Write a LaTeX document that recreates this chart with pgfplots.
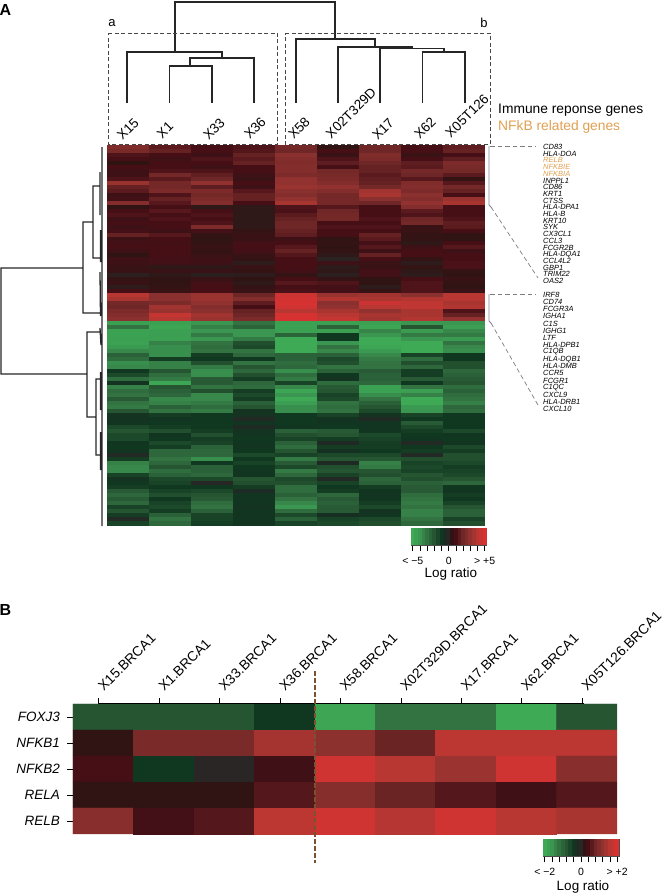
\documentclass[border=0pt]{standalone}
\usepackage{fontspec}
\setmainfont{Liberation Sans}
\usepackage{pgfplots}
\usepackage{pgfplotstable}
\pgfplotsset{compat=1.18}
\pgfdeclareplotmark{cellA}{\pgfpathrectangle{\pgfpoint{-21.1pt}{-2.15pt}}{\pgfpoint{42.2pt}{4.3pt}}\pgfusepathqfill}
\pgfdeclareplotmark{cellK}{\pgfpathrectangle{\pgfpoint{-1.9pt}{-8.5pt}}{\pgfpoint{3.8pt}{17pt}}\pgfusepathqfill}
\pgfplotsset{
  colormap={logratio}{
    rgb255(0cm)=(62,170,85);
    rgb255(2cm)=(58,150,80);
    rgb255(4cm)=(50,115,65);
    rgb255(6cm)=(38,85,50);
    rgb255(8cm)=(16,55,32);
    rgb255(9cm)=(25,45,35);
    rgb255(10cm)=(42,38,38);
    rgb255(11cm)=(48,20,20);
    rgb255(12cm)=(70,15,22);
    rgb255(14cm)=(110,38,38);
    rgb255(16cm)=(145,50,48);
    rgb255(18cm)=(185,55,50);
    rgb255(20cm)=(215,50,50)},
  colormap name=logratio
}
\definecolor{nfkb}{RGB}{224,160,80}
\definecolor{bracketgray}{RGB}{130,135,150}
\definecolor{dashgray}{RGB}{125,125,125}
\definecolor{divider}{RGB}{122,82,48}
\pgfplotstableread{
r c1 c2 c3 c4 c5 c6 c7 c8 c9
0 2.5 1.5 1.0 1.2 2.2 0.5 2.0 1.0 1.6
1 2.3 1.8 1.0 1.3 2.0 1.0 2.0 1.0 1.8
2 1.2 1.0 0.8 1.8 2.8 0.7 2.5 0.7 1.0
3 1.0 0.8 1.2 1.5 2.6 1.2 2.4 1.0 1.6
4 0.5 1.0 1.0 1.8 2.5 1.6 2.0 1.6 2.4
5 1.0 1.0 0.8 1.0 2.6 1.0 1.8 1.5 2.3
6 0.8 1.2 1.2 1.0 2.6 2.2 1.8 2.2 2.2
7 0.8 2.2 1.7 0.8 2.4 2.3 1.5 2.0 1.5
8 1.2 1.5 2.0 0.7 3.0 2.4 1.7 1.4 0.6
9 3.2 2.2 3.0 1.0 3.0 2.6 1.8 2.5 1.4
10 1.8 2.2 1.6 0.8 3.2 3.0 2.2 2.6 2.2
11 1.5 2.4 2.4 1.4 2.8 2.6 3.4 2.4 1.8
12 0.8 1.2 2.2 1.8 2.6 2.2 3.6 2.8 1.0
13 0.9 1.8 2.4 1.8 3.0 2.2 2.8 2.6 3.2
14 2.6 1.4 2.6 1.0 3.6 2.2 2.0 3.0 3.6
15 0.5 1.0 0.4 0.4 1.2 1.4 1.0 2.6 1.0
16 1.0 1.4 1.0 0.4 1.1 2.0 1.0 1.5 1.0
17 1.2 1.0 1.2 0.4 1.5 2.2 1.0 1.2 1.0
18 0.8 1.2 1.0 0.4 1.8 2.2 1.2 2.0 1.2
19 1.0 1.0 1.2 0.4 2.0 1.0 1.0 2.2 1.6
20 0.8 1.0 2.4 0.4 2.0 1.2 1.2 0.7 1.5
21 0.9 0.8 0.9 0.6 1.8 1.0 1.0 0.7 1.0
22 1.8 1.4 0.6 0.7 1.6 1.0 1.8 0.6 0.5
23 0.8 1.0 0.5 0.7 0.8 0.5 1.5 0.6 0.5
24 0.9 0.9 0.6 0.9 1.0 0.6 0.9 0.4 1.0
25 1.0 1.0 0.7 1.0 1.4 0.5 1.4 0.8 1.4
26 0.8 1.0 0.6 0.9 1.8 0.6 0.8 1.0 0.8
27 0.5 1.0 0.7 0.7 1.3 0.4 1.8 1.0 1.0
28 0.8 0.9 0.8 0.6 1.0 0.1 1.0 0.6 1.0
29 0.8 0.9 0.8 0.3 1.0 0.8 0.7 0.3 1.1
30 0.7 0.4 0.4 0.7 1.0 0.3 0.7 0.6 1.1
31 0.7 0.7 0.7 0.6 0.9 0.4 0.9 0.4 0.6
32 0.2 0.4 0.2 0.3 0.6 0.2 0.9 0.3 0.5
33 0.6 0.5 0.7 0.5 1.0 0.6 0.5 1.0 0.7
34 0.7 0.5 0.9 0.4 1.4 1.2 0.5 1.2 0.6
35 0.3 0.6 1.0 0.6 1.0 0.9 0.3 1.2 0.5
36 1.0 0.7 1.0 0.7 1.1 0.9 0.6 1.2 0.7
37 4.0 2.8 3.2 2.0 4.6 3.2 3.4 2.8 4.0
38 3.6 2.8 3.2 2.6 4.8 3.8 3.6 3.8 4.0
39 2.2 2.4 3.0 1.6 5.0 2.8 4.6 4.2 3.6
40 2.0 3.4 2.6 1.0 4.8 3.0 4.0 4.2 3.8
41 2.4 3.2 2.8 1.8 4.0 3.6 3.0 3.6 1.2
42 2.6 4.4 3.4 2.0 5.0 4.0 3.6 3.6 1.8
43 2.8 4.0 3.2 2.4 5.0 4.4 3.4 3.8 3.0
44 -4.5 -4.5 -4.0 -3.0 -4.5 -4.5 -4.5 -4.0 -4.0
45 -3.0 -4.8 -3.4 -2.5 -4.6 -2.5 -4.8 -2.0 -4.4
46 -4.6 -4.5 -4.0 -4.0 -4.5 -4.5 -3.5 -4.3 -3.6
47 -4.6 -4.4 -3.2 -4.0 -2.5 -1.0 -4.0 -3.2 -3.2
48 -4.5 -4.5 -4.0 -3.2 -5.0 -1.0 -5.0 -4.0 -4.2
49 -4.6 -3.4 -3.0 -1.8 -5.0 -4.0 -5.0 -5.0 -3.0
50 -4.2 -3.8 -2.8 -1.6 -5.0 -3.0 -4.8 -5.0 -3.6
51 -3.6 -3.8 -3.0 -3.0 -5.0 -3.6 -4.2 -5.0 -3.8
52 -2.4 -3.8 -1.2 -2.6 -2.4 -2.4 -3.6 -1.4 -1.0
53 -2.8 -1.2 -1.0 -1.0 -2.4 -1.6 -3.2 -2.8 -1.0
54 -3.8 -3.4 -1.8 -3.0 -2.8 -1.8 -3.0 -1.8 -1.8
55 -3.6 -3.4 -3.2 -2.0 -2.6 -3.0 -3.0 -2.6 -1.8
56 -1.0 -2.0 -3.8 -2.6 -3.8 -2.4 -2.2 -1.2 -2.6
57 -1.6 -2.8 -3.8 -1.8 -2.8 -1.0 -2.4 -1.2 -2.4
58 -2.8 -3.2 -2.2 -1.2 -3.2 -0.8 -2.4 -2.2 -2.2
59 -0.8 -4.8 -2.2 -2.6 -1.4 -2.8 -2.6 -1.0 -2.0
60 -3.4 -2.0 -3.0 -2.8 -3.6 -2.2 -4.6 -3.0 -2.8
61 -2.8 -2.4 -1.8 -1.2 -4.8 -2.0 -4.6 -4.4 -2.4
62 -3.0 -2.6 -3.6 -1.6 -4.0 -1.4 -3.8 -3.4 -2.8
63 -2.2 -3.6 -3.6 -1.2 -5.0 -1.6 -3.0 -5.0 -3.0
64 -3.0 -3.4 -3.2 -2.4 -4.4 -3.0 -2.4 -5.0 -3.4
65 -3.2 -2.4 -2.8 -2.0 -3.8 -2.8 -2.0 -4.2 -2.6
66 -2.0 -3.0 -3.2 -0.8 -3.8 -3.0 -1.6 -4.0 -2.8
67 -0.8 -1.2 -1.0 -0.8 -1.0 -1.4 -0.8 -1.4 -1.0
68 -0.8 -0.9 -1.0 -0.2 -1.0 -0.8 -0.3 -1.0 -1.0
69 -0.9 -1.0 -1.0 -0.9 -1.0 -0.9 -0.9 -2.2 -1.0
70 -1.6 -1.2 -1.0 -0.3 -0.9 -1.0 -0.9 -1.6 -1.0
71 -2.0 -1.8 -1.2 -0.8 -2.4 -2.2 -0.9 -1.2 -1.6
72 -1.6 -0.9 -1.8 -0.9 -1.8 -2.0 -1.6 -1.0 -0.9
73 -1.6 -1.0 -1.2 -1.0 -1.4 -1.2 -1.4 -0.9 -1.0
74 -0.9 -1.6 -1.4 -0.9 -2.4 -0.3 -1.2 -0.2 -0.9
75 -1.0 -1.2 -2.4 -0.9 -2.8 -1.2 -1.2 -1.0 -1.6
76 -0.9 -2.6 -2.6 -1.0 -2.0 -0.7 -1.0 -1.2 -1.2
77 -0.2 -2.6 -2.6 -1.6 -1.4 -1.6 -1.6 -0.2 -1.8
78 -1.2 -3.0 -3.8 -1.0 -3.2 -2.0 -2.0 -1.8 -1.8
79 -3.4 -2.6 -1.0 -1.4 -2.2 -0.3 -3.4 -1.4 -1.6
80 -3.6 -2.0 -2.4 -1.0 -1.6 -1.8 -3.2 -1.6 -1.2
81 -3.6 -2.8 -2.4 -0.9 -3.2 -2.0 -2.0 -1.4 -1.4
82 -1.4 -2.4 -2.6 -0.9 -2.6 -1.4 -1.8 -2.0 -1.6
83 -0.8 -1.6 -1.6 -2.0 -1.6 -0.2 -2.6 -1.8 -2.0
84 -1.0 -1.4 -0.1 -1.8 -1.8 -1.4 -2.4 -2.4 -2.6
85 -1.2 -1.0 -1.0 -1.2 -2.8 -1.0 -1.2 -2.2 -1.0
86 -2.2 -1.4 -1.6 -0.4 -2.8 -1.2 -0.9 -2.2 -0.9
87 -2.6 -1.8 -2.0 -0.9 -2.4 -2.6 -0.9 -2.8 -1.2
88 -2.2 -1.0 -2.2 -0.9 -3.0 -2.2 -0.9 -3.0 -1.0
89 -2.6 -1.4 -2.8 -0.9 -3.6 -2.4 -1.2 -3.2 -1.4
90 -1.4 -1.6 -3.0 -0.8 -4.0 -2.2 -1.6 -3.0 -2.0
91 -2.0 -1.2 -2.4 -0.9 -2.8 -2.2 -0.8 -3.4 -2.4
92 -1.2 -2.4 -1.4 -0.9 -1.6 -0.6 -0.9 -3.4 -2.4
93 -0.2 -3.0 -1.4 -0.9 -2.4 -1.4 -1.6 -3.0 -1.4
94 -1.4 -2.6 -1.2 -0.9 -1.4 -1.6 -1.8 -2.6 -1.8
}\heatA
\begin{document}
\begin{tikzpicture}[x=1pt,y=1pt]
\useasboundingbox (0,0) rectangle (664,894);
% ---- panel A heat map
\begin{axis}[at={(107pt,748.5pt)},anchor=north west,scale only axis,width=378pt,height=380pt,
  xmin=0.5,xmax=9.5,ymin=-0.5,ymax=94.5,y dir=reverse,hide axis,clip=false,
  point meta min=-5,point meta max=5]
\pgfplotsinvokeforeach{1,...,9}{
  \addplot[scatter,only marks,mark=cellA,scatter src=explicit] table[x expr=#1,y=r,meta=c#1] {\heatA};
}
\end{axis}
% ---- panel A colour key
\begin{axis}[at={(411pt,349pt)},anchor=south west,scale only axis,width=75.5pt,height=16pt,
  xmin=-5.25,xmax=5.25,ymin=-1,ymax=1,ytick=\empty,axis on top,
  axis line style={draw=black!70,line width=.5pt},
  xtick={-5,-4,-3,-2,-1,0,1,2,3,4,5},xticklabels={< −5,,,,,0,,,,,> +5},xtick pos=bottom,
  tick align=outside,major tick length=6pt,tick style={black,line width=.7pt},
  xticklabel style={font=\fontsize{10.5}{11}\selectfont,yshift=-3pt},
  point meta min=-5,point meta max=5,clip=true]
\addplot[scatter,only marks,mark=cellK,scatter src=explicit] table[x=x,y=y,meta=x] {
x y
-5 0
-4.5 0
-4 0
-3.5 0
-3 0
-2.5 0
-2 0
-1.5 0
-1 0
-0.5 0
0 0
0.5 0
1 0
1.5 0
2 0
2.5 0
3 0
3.5 0
4 0
4.5 0
5 0
};
\end{axis}
% ---- panel B heat map
\begin{axis}[at={(73pt,60pt)},anchor=south west,scale only axis,width=544pt,height=130pt,
  xmin=0.5,xmax=9.5,ymin=0.5,ymax=5.5,
  axis line style={draw=none},
  xtick={0.925,1.925,2.925,3.925,4.925,5.925,6.925,7.925,8.925},
  xticklabels={X15.BRCA1,X1.BRCA1,X33.BRCA1,X36.BRCA1,X58.BRCA1,X02T329D.BRCA1,X17.BRCA1,X62.BRCA1,X05T126.BRCA1},
  xtick pos=top,xticklabel pos=top,
  xticklabel style={rotate=45,anchor=west,font=\fontsize{13.8}{14}\selectfont,xshift=4.8pt,yshift=5.8pt},
  ytick={1,2,3,4,5},yticklabels={\textit{RELB},\textit{RELA},\textit{NFKB2},\textit{NFKB1},\textit{FOXJ3}},
  ytick pos=left,yticklabel style={font=\fontsize{13.5}{14}\selectfont,xshift=-4pt},
  tick align=outside,major tick length=5.5pt,tick style={black,line width=.6pt},
  axis on top=false,point meta min=-2,point meta max=2,clip=false]
\addplot[matrix plot*,mesh/cols=9,mesh/rows=5,point meta=explicit] table[x=x,y=y,meta=v] {
x y v
1 5 -0.8
2 5 -0.8
3 5 -0.8
4 5 -0.4
5 5 -1.9
6 5 -1.2
7 5 -1.2
8 5 -2.0
9 5 -0.8
1 4 0.2
2 4 0.94
3 4 0.94
4 4 1.4
5 4 1.16
6 4 0.76
7 4 1.64
8 4 1.64
9 4 1.64
1 3 0.4
2 3 -0.4
3 3 0.0
4 3 0.34
5 3 1.9
6 3 1.6
7 3 1.3
8 3 1.9
9 3 1.1
1 2 0.2
2 2 0.2
3 2 0.2
4 2 0.54
5 2 1.06
6 2 0.76
7 2 0.54
8 2 0.34
9 2 0.54
1 1 1.1
2 1 0.36
3 1 0.54
4 1 1.64
5 1 1.9
6 1 1.56
7 1 1.9
8 1 1.6
9 1 1.44
};
\end{axis}
% ---- panel B colour key
\begin{axis}[at={(543pt,38pt)},anchor=south west,scale only axis,width=76pt,height=17pt,
  xmin=-2.1,xmax=2.1,ymin=-1,ymax=1,ytick=\empty,axis on top,
  axis line style={draw=black!70,line width=.5pt},
  xtick={-2,-1.6,-1.2,-0.8,-0.4,0,0.4,0.8,1.2,1.6,2},xticklabels={< −2,,,,,0,,,,,> +2},xtick pos=bottom,
  tick align=outside,major tick length=6pt,tick style={black,line width=.7pt},
  xticklabel style={font=\fontsize{10.5}{11}\selectfont,yshift=-3pt},
  point meta min=-2,point meta max=2,clip=true]
\addplot[scatter,only marks,mark=cellK,scatter src=explicit] table[x=x,y=y,meta=x] {
x y
-2 0
-1.8 0
-1.6 0
-1.4 0
-1.2 0
-1 0
-0.8 0
-0.6 0
-0.4 0
-0.2 0
0 0
0.2 0
0.4 0
0.6 0
0.8 0
1 0
1.2 0
1.4 0
1.6 0
1.8 0
2 0
};
\end{axis}
% ---- overlay in picture pixels
\begin{axis}[at={(0pt,0pt)},anchor=south west,scale only axis,width=664pt,height=894pt,
  xmin=0,xmax=664,ymin=0,ymax=894,y dir=reverse,hide axis,clip=false,unbounded coords=jump]
% top dendrogram
\addplot[black!85,line width=1.3pt,line join=miter] coordinates {
(175,52)(175,2)(335,2)(335,39) (nan,nan)
(127,103)(127,52)(222,52)(222,58) (nan,nan)
(190,66)(190,58)(254,58)(254,103) (nan,nan)
(169.5,103)(169.5,66)(212,66)(212,103) (nan,nan)
(296,103)(296,39)(375,39)(375,47) (nan,nan)
(338,103)(338,47)(412,47)(412,48.5) (nan,nan)
(380,103)(380,48.5)(444,48.5)(444,52) (nan,nan)
(422.5,103)(422.5,52)(465,52)(465,103)
};
% left dendrogram
\addplot[black!85,line width=1.3pt,line join=miter] coordinates {
(83,268)(1,268)(1,374)(87,374) (nan,nan)
(93,222)(83,222)(83,313)(100,313) (nan,nan)
(100,186)(93,186)(93,258)(101,258) (nan,nan)
(100,332)(87,332)(87,417)(96,417) (nan,nan)
(101,379)(96,379)(96,455)(101,455) (nan,nan)
(102,147)(102,526) (nan,nan)
(100,172)(100,215) (nan,nan)
(100.5,230)(100.5,262) (nan,nan)
(100,272)(100.5,316) (nan,nan)
(100,328)(101,345) (nan,nan)
(100.5,372)(100.5,410) (nan,nan)
(100.5,432)(100.5,470)
};
% dashed boxes
\addplot[black!72,line width=.8pt,dash pattern=on 4pt off 2.5pt] coordinates {(108,33)(277.5,33)(277.5,144)(108,144)(108,33)};
\addplot[black!72,line width=.8pt,dash pattern=on 4pt off 2.5pt] coordinates {(285,33)(490,33)(490,144)(285,144)(285,33)};
% gene brackets
\addplot[bracketgray,line width=.8pt] coordinates {(489,146)(489,205)(491,207)};
\addplot[bracketgray,line width=.8pt] coordinates {(489,294)(489,321)(491,323)};
\addplot[dashgray,line width=.7pt,dash pattern=on 4.5pt off 3pt] coordinates {(490,146)(536,146)};
\addplot[dashgray,line width=.7pt,dash pattern=on 4.5pt off 3pt] coordinates {(491,207)(538,278)};
\addplot[dashgray,line width=.7pt,dash pattern=on 4.5pt off 3pt] coordinates {(490,294)(536,294)};
\addplot[dashgray,line width=.7pt,dash pattern=on 4.5pt off 3pt] coordinates {(491,323)(538,405)};
% panel B line and divider
\addplot[black,line width=.7pt] coordinates {(98.7,703)(583.5,703)};
\addplot[divider,line width=1.5pt,dash pattern=on 4.5pt off 2.5pt] coordinates {(315,671)(315,863)};
% panel letters
\node[font=\fontsize{16}{17}\bfseries\selectfont] at (axis cs:5.5,10) {A};
\node[font=\fontsize{16}{17}\bfseries\selectfont] at (axis cs:5.5,610) {B};
\node[font=\fontsize{13}{14}\selectfont] at (axis cs:112,23) {a};
\node[font=\fontsize{13}{14}\selectfont] at (axis cs:484,23) {b};
% sample labels
\begin{scope}[every node/.style={rotate=45,font=\fontsize{13.5}{14}\selectfont}]
\node at (axis cs:128,129) {X15};
\node at (axis cs:165,130) {X1};
\node at (axis cs:214,129) {X33};
\node at (axis cs:255,128) {X36};
\node at (axis cs:299,128) {X58};
\node at (axis cs:351,113) {X02T329D};
\node at (axis cs:383,129) {X17};
\node at (axis cs:425,128) {X62};
\node at (axis cs:467,116) {X05T126};
\end{scope}
\node[anchor=west,inner sep=0pt,font=\fontsize{13.8}{15}\selectfont] at (axis cs:498,110) {Immune reponse genes};
\node[anchor=west,inner sep=0pt,text=nfkb,font=\fontsize{13.8}{15}\selectfont] at (axis cs:498,127) {NFkB related genes};
% gene lists
\begin{scope}[every node/.style={anchor=west,inner sep=0pt,font=\fontsize{7.5}{8}\itshape\selectfont}]
\node at (axis cs:543,147) {CD83};
\node at (axis cs:543,153.7) {HLA-DOA};
\node[text=nfkb] at (axis cs:543,160.4) {RELB};
\node[text=nfkb] at (axis cs:543,167.1) {NFKBIE};
\node[text=nfkb] at (axis cs:543,173.8) {NFKBIA};
\node at (axis cs:543,180.5) {INPPL1};
\node at (axis cs:543,187.2) {CD86};
\node at (axis cs:543,193.9) {KRT1};
\node at (axis cs:543,200.6) {CTSS};
\node at (axis cs:543,207.3) {HLA-DPA1};
\node at (axis cs:543,214) {HLA-B};
\node at (axis cs:543,220.7) {KRT10};
\node at (axis cs:543,227.4) {SYK};
\node at (axis cs:543,234.1) {CX3CL1};
\node at (axis cs:543,240.8) {CCL3};
\node at (axis cs:543,247.5) {FCGR2B};
\node at (axis cs:543,254.2) {HLA-DQA1};
\node at (axis cs:543,260.9) {CCL4L2};
\node at (axis cs:543,267.6) {GBP1};
\node at (axis cs:543,274.3) {TRIM22};
\node at (axis cs:543,281) {OAS2};
\node at (axis cs:543,295) {IRF8};
\node at (axis cs:543,302.1) {CD74};
\node at (axis cs:543,309.2) {FCGR3A};
\node at (axis cs:543,316.4) {IGHA1};
\node at (axis cs:543,323.5) {C1S};
\node at (axis cs:543,330.6) {IGHG1};
\node at (axis cs:543,337.8) {LTF};
\node at (axis cs:543,344.9) {HLA-DPB1};
\node at (axis cs:543,352) {C1QB};
\node at (axis cs:543,359.1) {HLA-DQB1};
\node at (axis cs:543,366.2) {HLA-DMB};
\node at (axis cs:543,373.4) {CCR5};
\node at (axis cs:543,380.5) {FCGR1};
\node at (axis cs:543,387.6) {C1QC};
\node at (axis cs:543,394.8) {CXCL9};
\node at (axis cs:543,401.9) {HLA-DRB1};
\node at (axis cs:543,409) {CXCL10};
\end{scope}
\node[font=\fontsize{13.5}{14}\selectfont] at (axis cs:451,574) {Log ratio};
\node[font=\fontsize{13.5}{14}\selectfont] at (axis cs:583,887) {Log ratio};
\end{axis}
\end{tikzpicture}
\end{document}
